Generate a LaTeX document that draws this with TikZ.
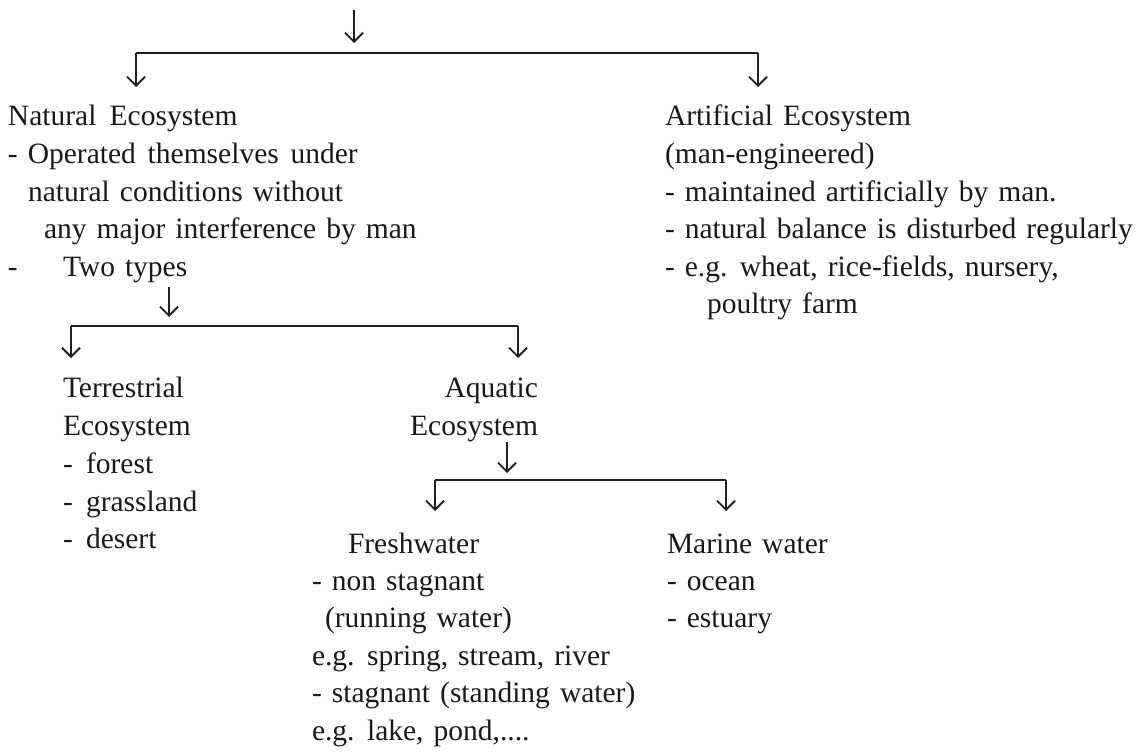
\documentclass[tikz,border=0pt]{standalone}
\usepackage{fontspec}
\setmainfont{Liberation Serif}
\usetikzlibrary{arrows.meta}
\newcommand\mytxtfont{\fontsize{29.5}{35}\selectfont\spaceskip=0.34em plus 0.1em\relax}
\begin{document}
\begin{tikzpicture}[x=1pt,y=-1pt,
  txt/.style={anchor=base west,inner sep=0pt,outer sep=0pt,font=\mytxtfont,text=black!90},
  bar/.style={line width=2.8pt,draw=black!88},
  arr/.style={line width=1.6pt,draw=black!88,-{Straight Barb[length=9pt,width=18pt,line width=1.9pt]}}]
\useasboundingbox (0,0) rectangle (1139,754);
% top level
\coordinate (topin) at (354,10);
\coordinate (topend) at (354,43);
\coordinate (bl1) at (136,53);
\coordinate (br1) at (758,53);
\coordinate (nat) at (136,87);
\coordinate (art) at (758,87);
\draw[arr] (topin) -- (topend);
\draw[bar] (bl1) -- (br1);
\draw[arr] (bl1) -- (nat);
\draw[arr] (br1) -- (art);
% Natural
\node[txt] (n1) at (8,126) {Natural\hspace{0.45em}Ecosystem};
\node[txt] (n2) at (8,164) {- Operated\hspace{0.4em}themselves\hspace{0.4em}under};
\node[txt] (n3) at (28,201) {natural conditions without};
\node[txt] (n4) at (44,238) {any major interference by man};
\node[txt] (n5a) at (8,276) {-};
\node[txt] (n5) at (63,276) {Two types};
% Artificial
\node[txt] (a1) at (665,126) {Artificial Ecosystem};
\node[txt] (a2) at (665,164) {(man-engineered)};
\node[txt] (a3) at (665,201) {- maintained artificially by man.};
\node[txt] (a4) at (665,238) {- natural balance is disturbed regularly};
\node[txt] (a5) at (665,276) {- e.g. wheat, rice-fields, nursery,};
\node[txt] (a6) at (707,313) {poultry farm};
% second level
\coordinate (twoin) at (169,287);
\coordinate (twoend) at (169,317);
\coordinate (bl2) at (71,326);
\coordinate (br2) at (518,326);
\coordinate (ter) at (71,358);
\coordinate (aqu) at (518,358);
\draw[arr] (twoin) -- (twoend);
\draw[bar] (bl2) -- (br2);
\draw[arr] (bl2) -- (ter);
\draw[arr] (br2) -- (aqu);
% Terrestrial
\node[txt] (t1) at (63,397) {Terrestrial};
\node[txt] (t2) at (63,435) {Ecosystem};
\node[txt] (t3) at (63,473) {-\hspace{0.45em}forest};
\node[txt] (t4) at (63,511) {-\hspace{0.45em}grassland};
\node[txt] (t5) at (63,548) {-\hspace{0.45em}desert};
% Aquatic
\node[txt,anchor=base east] (q1) at (538,397) {Aquatic};
\node[txt,anchor=base east] (q2) at (538,435) {Ecosystem};
% third level
\coordinate (aqin) at (507,442);
\coordinate (aqend) at (507,473);
\coordinate (bl3) at (435,480);
\coordinate (br3) at (726,480);
\coordinate (fre) at (435,511);
\coordinate (mar) at (726,511);
\draw[arr] (aqin) -- (aqend);
\draw[bar] (bl3) -- (br3);
\draw[arr] (bl3) -- (fre);
\draw[arr] (br3) -- (mar);
% Freshwater
\node[txt] (f1) at (348,553) {Freshwater};
\node[txt] (f2) at (312,590) {- non stagnant};
\node[txt] (f3) at (325,627) {(running water)};
\node[txt] (f4) at (312,665) {e.g. spring, stream, river};
\node[txt] (f5) at (312,702) {- stagnant (standing water)};
\node[txt] (f6) at (312,740) {e.g. lake, pond,....};
% Marine
\node[txt] (m1) at (667,553) {Marine water};
\node[txt] (m2) at (667,590) {- ocean};
\node[txt] (m3) at (667,627) {- estuary};
\end{tikzpicture}
\end{document}
